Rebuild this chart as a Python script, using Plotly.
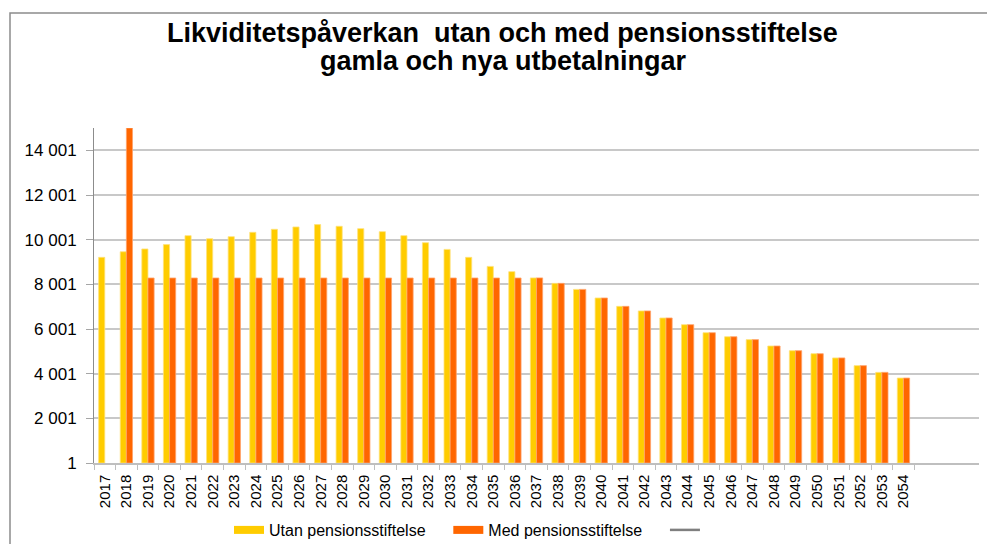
import plotly.graph_objects as go

years = [str(y) for y in range(2017, 2055)]
utan = [9210, 9460, 9585, 9780, 10180, 10045, 10135, 10330, 10465, 10570,
        10675, 10600, 10495, 10360, 10180, 9865, 9565, 9210, 8805, 8570,
        8290, 8045, 7775, 7390, 7015, 6810, 6495, 6195, 5835, 5655,
        5525, 5240, 5030, 4895, 4705, 4360, 4060, 3805]
med = [None, 15001, 8285, 8285, 8285, 8285, 8285, 8285, 8285, 8285,
       8285, 8285, 8285, 8285, 8285, 8285, 8285, 8285, 8285, 8285,
       8290, 8045, 7775, 7390, 7015, 6810, 6495, 6195, 5835, 5655,
       5525, 5240, 5030, 4895, 4705, 4360, 4060, 3805]
series_names = ["Utan pensionsstiftelse", "Med pensionsstiftelse", " "]
colors = ["#FFCC00", "#FF6600", "#7F7F7F"]
edge_colors = ["#FFE27A", "#FFA36B"]
title_lines = ["Likviditetspåverkan\u00a0 utan och med pensionsstiftelse",
               "gamla och nya utbetalningar"]

fig = go.Figure()
for vals, c, ec in [(utan, colors[0], edge_colors[0]), (med, colors[1], edge_colors[1])]:
    fig.add_trace(go.Bar(x=years, y=vals, marker=dict(color=c, line=dict(color=ec, width=0.8)),
                         showlegend=False, cliponaxis=True, hoverinfo="x+y"))

# legend entries
pad = "\u00a0" * 4
for name, c, w in zip(series_names, colors, [8, 8, 2.5]):
    fig.add_trace(go.Scatter(x=[None], y=[None], mode="lines",
                             name=name + (pad if name.strip() else ""),
                             line=dict(color=c, width=w)))

L, R, T, B = 94, 8, 128, 81
W, H = 987, 544
pw, ph = W - L - R, H - T - B

fig.update_layout(
    width=W, height=H,
    margin=dict(l=L, r=R, t=T, b=B, autoexpand=False),
    paper_bgcolor="white", plot_bgcolor="white",
    separators=", ",
    font=dict(family="Liberation Sans, Arial, sans-serif", color="#000000"),
    barmode="group", bargap=0.43, bargroupgap=0,
    legend=dict(orientation="h", x=(229 - L) / pw, xanchor="left",
                yref="container", y=1 - 513 / H, yanchor="top",
                font=dict(size=16), itemwidth=30, bgcolor="rgba(0,0,0,0)"),
    xaxis=dict(
        type="category", range=[-0.5, 40.5], tickangle=-90, automargin=False,
        ticks="outside", tickson="boundaries", ticklen=5, tickcolor="#BFBFBF",
        showline=True, linecolor="#BFBFBF", linewidth=1.5,
        showgrid=False, tickfont=dict(size=15), ticklabelstandoff=4,
    ),
    yaxis=dict(
        range=[1, 15001], tick0=1, dtick=2000, tickformat=",d", automargin=False,
        ticks="outside", ticklen=7, tickcolor="#A6A6A6",
        showline=True, linecolor="#8C8C8C", linewidth=1,
        showgrid=True, gridcolor="#C8C8C8", gridwidth=1.5,
        zeroline=False, tickfont=dict(size=17), ticklabelstandoff=6,
    ),
    annotations=[
        dict(text="<b>" + title_lines[0] + "</b>", xref="paper", yref="paper",
             x=(502 - L) / pw, y=(H - B - 33) / ph, xanchor="center", yanchor="middle",
             showarrow=False, font=dict(size=27, color="#000000")),
        dict(text="<b>" + title_lines[1] + "</b>", xref="paper", yref="paper",
             x=(503 - L) / pw, y=(H - B - 61) / ph, xanchor="center", yanchor="middle",
             showarrow=False, font=dict(size=27, color="#000000")),
    ],
    shapes=[dict(type="rect", xref="paper", yref="paper",
                 x0=(10 - L) / pw, x1=1.2, y0=-0.5, y1=(H - B - 13) / ph,
                 line=dict(color="#8C8C8C", width=1.5), layer="below")],
)

fig.write_html("out.html", config={"displayModeBar": False},
               post_script="document.body.style.margin='0';document.body.style.overflow='hidden';")
